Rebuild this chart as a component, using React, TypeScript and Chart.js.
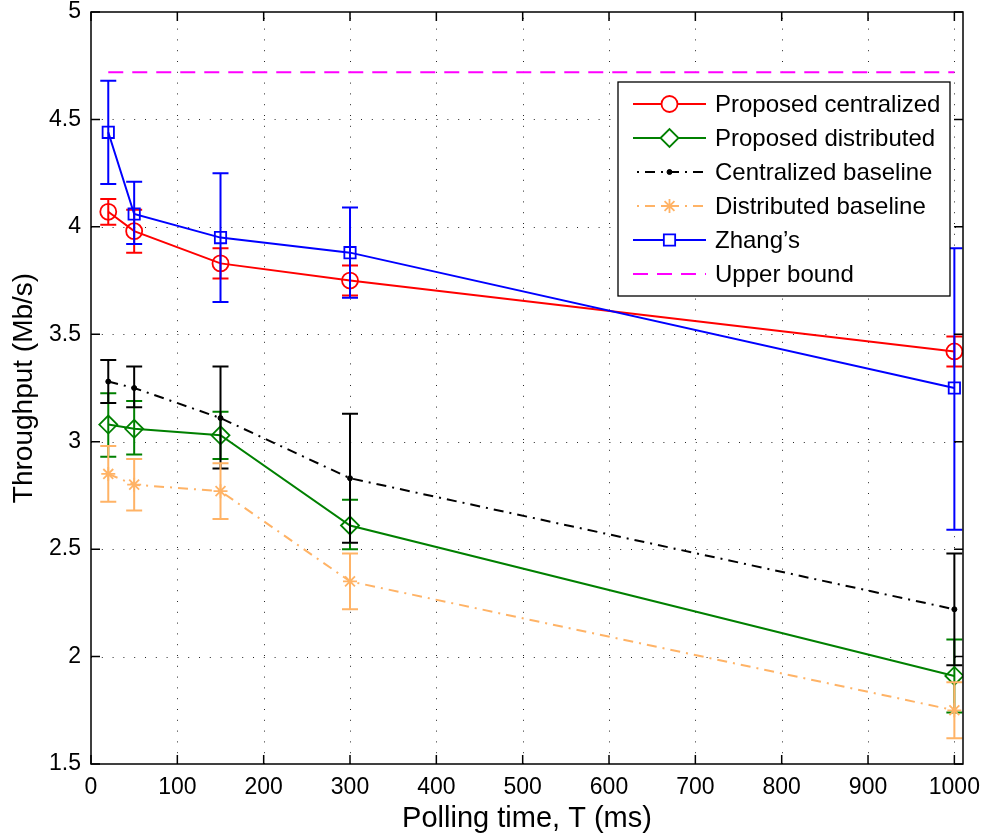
import React, { useEffect, useRef } from 'react';
import { Chart, registerables } from 'chart.js';

Chart.register(...registerables);

const xValues = [20, 50, 150, 300, 1000];
const xTicks = [0, 100, 200, 300, 400, 500, 600, 700, 800, 900, 1000];
const yTicks = [1.5, 2, 2.5, 3, 3.5, 4, 4.5, 5];

const propCentMean = [4.07, 3.98, 3.83, 3.75, 3.42];
const propCentLow = [4.01, 3.88, 3.76, 3.68, 3.35];
const propCentHigh = [4.13, 4.08, 3.9, 3.82, 3.49];

const propDistMean = [3.08, 3.06, 3.03, 2.61, 1.91];
const propDistLow = [2.93, 2.94, 2.92, 2.5, 1.74];
const propDistHigh = [3.225, 3.19, 3.14, 2.73, 2.08];

const centBaseMean = [3.28, 3.25, 3.11, 2.83, 2.22];
const centBaseLow = [3.18, 3.16, 2.875, 2.53, 1.96];
const centBaseHigh = [3.38, 3.35, 3.35, 3.13, 2.48];

const distBaseMean = [2.85, 2.8, 2.77, 2.35, 1.75];
const distBaseLow = [2.72, 2.68, 2.64, 2.22, 1.62];
const distBaseHigh = [2.98, 2.92, 2.9, 2.48, 1.88];

const zhangMean = [4.44, 4.06, 3.95, 3.88, 3.25];
const zhangLow = [4.2, 3.92, 3.65, 3.67, 2.59];
const zhangHigh = [4.68, 4.21, 4.25, 4.09, 3.9];

const upperBoundX = [20, 1000];
const upperBoundY = [4.72, 4.72];

const FONT = "'Liberation Sans', Arial, Helvetica, sans-serif";
const DASHDOT = [10, 6, 2, 6];

function drawMarker(ctx: CanvasRenderingContext2D, style: string, x: number, y: number, r: number, color: string, fill: string, lw: number) {
  ctx.save();
  ctx.setLineDash([]);
  ctx.strokeStyle = color;
  ctx.fillStyle = fill;
  ctx.lineWidth = lw;
  ctx.beginPath();
  if (style === 'circle') {
    ctx.arc(x, y, r, 0, Math.PI * 2);
    ctx.closePath();
  } else if (style === 'rectRot') {
    ctx.moveTo(x - r, y);
    ctx.lineTo(x, y - r);
    ctx.lineTo(x + r, y);
    ctx.lineTo(x, y + r);
    ctx.closePath();
  } else if (style === 'rect') {
    const s = Math.SQRT1_2 * r;
    ctx.rect(x - s, y - s, 2 * s, 2 * s);
  } else if (style === 'star') {
    for (let k = 0; k < 4; k++) {
      const a = (k * Math.PI) / 4;
      ctx.moveTo(x - Math.cos(a) * r, y - Math.sin(a) * r);
      ctx.lineTo(x + Math.cos(a) * r, y + Math.sin(a) * r);
    }
  }
  if (style !== 'star') ctx.fill();
  ctx.stroke();
  ctx.restore();
}

const customPlugin = {
  id: 'matlabStyle',
  beforeDatasetsDraw(chart: any) {
    const { ctx, chartArea } = chart;
    const xs = chart.scales.x;
    const ys = chart.scales.y;
    ctx.save();
    ctx.strokeStyle = 'rgba(0,0,0,0.85)';
    ctx.lineWidth = 1;
    ctx.setLineDash([1, 9.8]);
    xTicks.forEach((v) => {
      const px = Math.round(xs.getPixelForValue(v)) + 0.5;
      if (px <= chartArea.left + 1 || px >= chartArea.right - 1) return;
      ctx.beginPath();
      ctx.moveTo(px, chartArea.bottom);
      ctx.lineTo(px, chartArea.top);
      ctx.stroke();
    });
    yTicks.forEach((v) => {
      const py = Math.round(ys.getPixelForValue(v)) + 0.5;
      if (py <= chartArea.top + 1 || py >= chartArea.bottom - 1) return;
      ctx.beginPath();
      ctx.moveTo(chartArea.left, py);
      ctx.lineTo(chartArea.right, py);
      ctx.stroke();
    });
    ctx.restore();
  },
  afterDatasetDraw(chart: any, args: any) {
    const ds = chart.data.datasets[args.index];
    if (!ds.errLow) return;
    const { ctx } = chart;
    const xs = chart.scales.x;
    const ys = chart.scales.y;
    ctx.save();
    ctx.setLineDash([]);
    ctx.strokeStyle = ds.borderColor;
    ctx.lineWidth = 2;
    ds.data.forEach((pt: any, i: number) => {
      const px = xs.getPixelForValue(pt.x);
      const pl = ys.getPixelForValue(ds.errLow[i]);
      const ph = ys.getPixelForValue(ds.errHigh[i]);
      ctx.beginPath();
      ctx.moveTo(px, pl);
      ctx.lineTo(px, ph);
      ctx.moveTo(px - 8, pl);
      ctx.lineTo(px + 8, pl);
      ctx.moveTo(px - 8, ph);
      ctx.lineTo(px + 8, ph);
      ctx.stroke();
    });
    ctx.restore();
  },
  afterDraw(chart: any) {
    const { ctx, chartArea } = chart;
    const xs = chart.scales.x;
    const ys = chart.scales.y;
    ctx.save();
    ctx.setLineDash([]);
    ctx.strokeStyle = '#000';
    ctx.lineWidth = 1.5;
    ctx.strokeRect(chartArea.left, chartArea.top, chartArea.right - chartArea.left, chartArea.bottom - chartArea.top);
    const tl = 9;
    ctx.beginPath();
    xTicks.forEach((v) => {
      const px = xs.getPixelForValue(v);
      ctx.moveTo(px, chartArea.bottom);
      ctx.lineTo(px, chartArea.bottom - tl);
      ctx.moveTo(px, chartArea.top);
      ctx.lineTo(px, chartArea.top + tl);
    });
    yTicks.forEach((v) => {
      const py = ys.getPixelForValue(v);
      ctx.moveTo(chartArea.left, py);
      ctx.lineTo(chartArea.left + tl, py);
      ctx.moveTo(chartArea.right, py);
      ctx.lineTo(chartArea.right - tl, py);
    });
    ctx.stroke();

    // legend
    const bx = 618, by = 82, bw = 332, bh = 214;
    ctx.fillStyle = '#fff';
    ctx.fillRect(bx, by, bw, bh);
    ctx.lineWidth = 1.3;
    ctx.strokeStyle = '#000';
    ctx.strokeRect(bx, by, bw, bh);
    const rowH = 34;
    chart.data.datasets.forEach((ds: any, i: number) => {
      const cy = by + 22 + i * rowH;
      const x1 = 633, x2 = 706, cx = (x1 + x2) / 2;
      ctx.save();
      ctx.strokeStyle = ds.borderColor;
      ctx.lineWidth = 2;
      ctx.setLineDash(ds.borderDash || []);
      if (ds.borderDash && ds.borderDash.length === 4) ctx.lineDashOffset = 12;
      ctx.beginPath();
      ctx.moveTo(x1, cy);
      ctx.lineTo(x2, cy);
      ctx.stroke();
      ctx.restore();
      if (ds.pointRadius > 0) {
        drawMarker(ctx, ds.pointStyle, cx, cy, ds.pointRadius, ds.pointBorderColor, ds.pointBackgroundColor === 'transparent' ? '#fff' : ds.pointBackgroundColor, ds.pointBorderWidth);
      }
      ctx.fillStyle = '#000';
      ctx.font = `24px ${FONT}`;
      ctx.textBaseline = 'middle';
      ctx.textAlign = 'left';
      ctx.fillText(ds.label, 715, cy + 1);
    });
    ctx.restore();
  },
};

function makeSeries(mean: number[]) {
  return xValues.map((x, i) => ({ x, y: mean[i] }));
}

export default function App() {
  const canvasRef = useRef<HTMLCanvasElement>(null);

  useEffect(() => {
    if (!canvasRef.current) return;
    Chart.defaults.font.family = FONT;
    const chart = new Chart(canvasRef.current, {
      type: 'line',
      data: {
        datasets: [
          {
            label: 'Proposed centralized',
            data: makeSeries(propCentMean),
            errLow: propCentLow,
            errHigh: propCentHigh,
            borderColor: '#ff0000',
            borderWidth: 2,
            pointStyle: 'circle',
            pointRadius: 8,
            pointBorderWidth: 1.8,
            pointBorderColor: '#ff0000',
            pointBackgroundColor: 'transparent',
            order: 5,
          } as any,
          {
            label: 'Proposed distributed',
            data: makeSeries(propDistMean),
            errLow: propDistLow,
            errHigh: propDistHigh,
            borderColor: '#008000',
            borderWidth: 2,
            pointStyle: 'rectRot',
            pointRadius: 9,
            pointBorderWidth: 1.8,
            pointBorderColor: '#008000',
            pointBackgroundColor: 'transparent',
            order: 4,
          },
          {
            label: 'Centralized baseline',
            data: makeSeries(centBaseMean),
            errLow: centBaseLow,
            errHigh: centBaseHigh,
            borderColor: '#000000',
            borderWidth: 2,
            borderDash: DASHDOT,
            pointStyle: 'circle',
            pointRadius: 2.5,
            pointBorderWidth: 1,
            pointBorderColor: '#000000',
            pointBackgroundColor: '#000000',
            order: 3,
          },
          {
            label: 'Distributed baseline',
            data: makeSeries(distBaseMean),
            errLow: distBaseLow,
            errHigh: distBaseHigh,
            borderColor: '#ffb366',
            borderWidth: 2,
            borderDash: DASHDOT,
            pointStyle: 'star',
            pointRadius: 7,
            pointBorderWidth: 1.8,
            pointBorderColor: '#ffb366',
            pointBackgroundColor: 'transparent',
            order: 2,
          },
          {
            label: "Zhang’s",
            data: makeSeries(zhangMean),
            errLow: zhangLow,
            errHigh: zhangHigh,
            borderColor: '#0000ff',
            borderWidth: 2,
            pointStyle: 'rect',
            pointRadius: 8,
            pointBorderWidth: 1.8,
            pointBorderColor: '#0000ff',
            pointBackgroundColor: 'transparent',
            order: 1,
          },
          {
            label: 'Upper bound',
            data: upperBoundX.map((x, i) => ({ x, y: upperBoundY[i] })),
            borderColor: '#ff00ff',
            borderWidth: 2,
            borderDash: [15, 9],
            pointRadius: 0,
            pointBorderColor: '#ff00ff',
            order: 0,
          },
        ] as any,
      },
      options: {
        animation: false,
        responsive: false,
        devicePixelRatio: 1,
        layout: { padding: { left: 0, top: 12, right: 24, bottom: 0 } },
        plugins: {
          legend: { display: false },
          tooltip: { enabled: false },
        },
        elements: { line: { tension: 0 } },
        scales: {
          x: {
            type: 'linear',
            min: 0,
            max: 1010,
            afterBuildTicks: (scale: any) => {
              scale.ticks = xTicks.map((v) => ({ value: v }));
            },
            afterFit: (scale: any) => {
              scale.height = 74;
              scale.paddingLeft = 0;
              scale.paddingRight = 0;
            },
            grid: { display: false, drawTicks: false },
            border: { display: false },
            ticks: {
              color: '#000',
              font: { size: 23, family: FONT },
              padding: 10,
              maxRotation: 0,
              autoSkip: false,
              callback: (v: any) => String(v),
            },
            title: {
              display: true,
              text: 'Polling time, T (ms)',
              color: '#000',
              font: { size: 29, family: FONT },
              padding: { top: 0, bottom: 2 },
            },
          },
          y: {
            type: 'linear',
            min: 1.5,
            max: 5,
            afterBuildTicks: (scale: any) => {
              scale.ticks = yTicks.map((v) => ({ value: v }));
            },
            afterFit: (scale: any) => {
              scale.width = 91;
              scale.paddingTop = 0;
              scale.paddingBottom = 0;
            },
            grid: { display: false, drawTicks: false },
            border: { display: false },
            ticks: {
              color: '#000',
              font: { size: 23, family: FONT },
              padding: 10,
              autoSkip: false,
              callback: (v: any) => String(v),
            },
            title: {
              display: true,
              text: 'Throughput (Mb/s)',
              color: '#000',
              font: { size: 28, family: FONT },
              padding: { top: 7, bottom: 0 },
            },
          },
        },
      } as any,
      plugins: [customPlugin],
    });
    return () => chart.destroy();
  }, []);

  return (
    <div style={{ position: 'absolute', left: 0, top: 0, width: 987, height: 838, background: '#fff' }}>
      <canvas ref={canvasRef} width={987} height={838} style={{ width: 987, height: 838, display: 'block' }} />
    </div>
  );
}
